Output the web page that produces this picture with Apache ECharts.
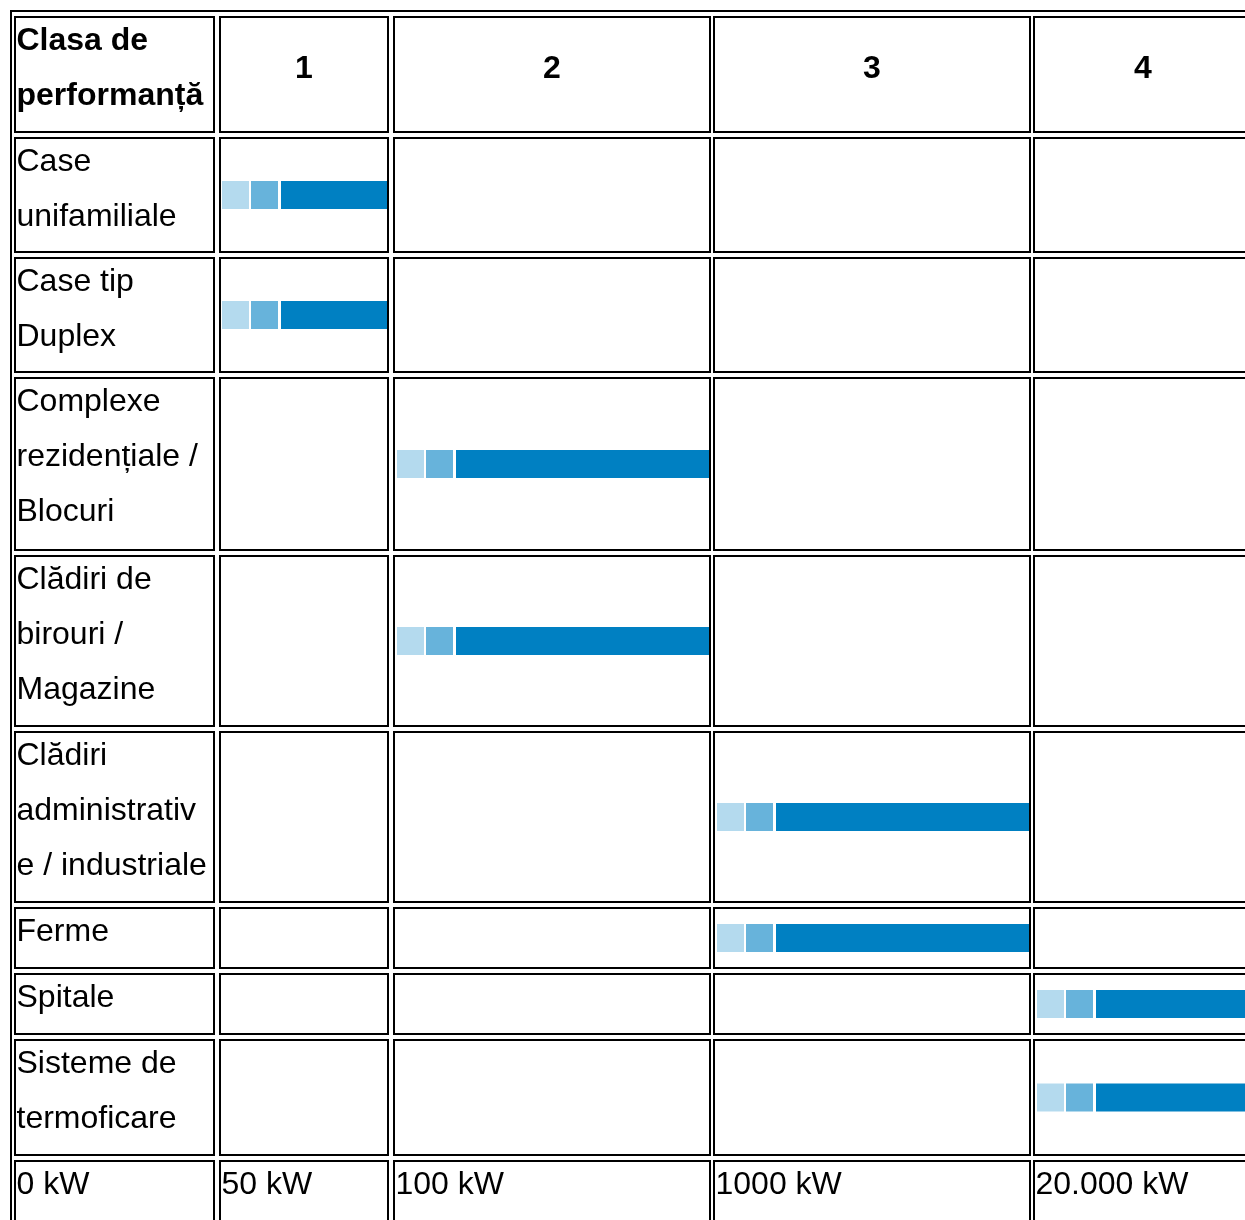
<!DOCTYPE html>
<html>
<head>
<meta charset="utf-8">
<script src="https://cdn.jsdelivr.net/npm/echarts@6/dist/echarts.min.js"></script>
<style>
html, body { margin: 0; padding: 0; background: #fff; }
#main { width: 1245px; height: 1220px; }
</style>
</head>
<body>
<div id="main"></div>
<script>
// date tabel
var headerLabel = 'Clasa de\nperformanță';
var classLabels = ['1', '2', '3', '4'];
var categories = [
    'Case\nunifamiliale',
    'Case tip\nDuplex',
    'Complexe\nrezidențiale /\nBlocuri',
    'Clădiri de\nbirouri /\nMagazine',
    'Clădiri\nadministrativ\ne / industriale',
    'Ferme',
    'Spitale',
    'Sisteme de\ntermoficare'
];
var categoryClass = [1, 1, 2, 2, 3, 3, 4, 4];
var powerLabels = ['0 kW', '50 kW', '100 kW', '1000 kW', '20.000 kW'];

// layout (centrele bordurilor, px)
var colEdges = [[15, 214], [220, 388], [394, 710], [714, 1030], [1034, 1252]];
var rowEdges = [[17, 132], [138, 252], [258, 372], [378, 550], [556, 726],
    [732, 902], [908, 968], [974, 1034], [1040, 1155], [1161, 1290]];

var FONT = '"Liberation Sans", Arial, sans-serif';
var FONT_SIZE = 32;
var LINE_H = 55;
var colors = ['#b4daee', '#67b3db', '#0080c2'];

var cells = [];
cells.push({ r: 0, c: 0, text: headerLabel, bold: true, center: false });
classLabels.forEach(function (lbl, i) {
    cells.push({ r: 0, c: i + 1, text: lbl, bold: true, center: true });
});
categories.forEach(function (name, i) {
    cells.push({ r: i + 1, c: 0, text: name, bold: false, center: false });
    for (var c = 1; c <= classLabels.length; c++) {
        cells.push({ r: i + 1, c: c, text: '', bold: false, center: false });
    }
});
powerLabels.forEach(function (lbl, i) {
    cells.push({ r: categories.length + 1, c: i, text: lbl, bold: false, center: false });
});

var bars = categories.map(function (name, i) {
    return [i + 1, categoryClass[i]];
});

function renderCell(params, api) {
    var cell = cells[params.dataIndex];
    var p0 = api.coord([colEdges[cell.c][0], rowEdges[cell.r][0]]);
    var p1 = api.coord([colEdges[cell.c][1], rowEdges[cell.r][1]]);
    var children = [{
        type: 'rect',
        shape: { x: p0[0], y: p0[1], width: p1[0] - p0[0], height: p1[1] - p0[1] },
        style: { fill: 'none', stroke: '#000', lineWidth: 2 }
    }];
    if (cell.text) {
        var tx = cell.center ? (p0[0] + p1[0]) / 2 : p0[0] + 1.5;
        var ty = cell.center ? p0[1] + 52 : p0[1] + 24 - LINE_H / 2;
        children.push({
            type: 'text',
            style: {
                text: cell.text,
                x: tx,
                y: ty,
                fill: '#000',
                font: (cell.bold ? 'bold ' : '') + FONT_SIZE + 'px ' + FONT,
                lineHeight: LINE_H,
                align: cell.center ? 'center' : 'left',
                verticalAlign: cell.center ? 'middle' : 'top'
            }
        });
    }
    return { type: 'group', children: children };
}

function renderBar(params, api) {
    var r = api.value(0), c = api.value(1);
    var L = colEdges[c][0], R = colEdges[c][1];
    var off = c === 1 ? 2 : 3;
    var cy = (rowEdges[r][0] + rowEdges[r][1]) / 2;
    var segs = [[L + off, L + off + 27], [L + off + 29, L + off + 56], [L + off + 59, R - 1]];
    return {
        type: 'group',
        children: segs.map(function (s, k) {
            var a = api.coord([s[0], cy - 14]);
            var b = api.coord([s[1], cy + 14]);
            return {
                type: 'rect',
                shape: { x: a[0], y: a[1], width: b[0] - a[0], height: b[1] - a[1] },
                style: { fill: colors[k] }
            };
        })
    };
}

var myChart = echarts.init(document.getElementById('main'));
var option = {
    backgroundColor: '#fff',
    animation: false,
    grid: { left: 0, right: 0, top: 0, bottom: 0 },
    xAxis: { type: 'value', min: 0, max: 1245, show: false },
    yAxis: { type: 'value', min: 0, max: 1220, inverse: true, show: false },
    graphic: [{
        type: 'rect',
        z: 100,
        shape: { x: 11, y: 11, width: 1400, height: 1400 },
        style: { fill: 'none', stroke: '#000', lineWidth: 2 }
    }],
    series: [{
        type: 'custom',
        name: 'cells',
        renderItem: renderCell,
        data: cells.map(function (d) { return [d.r, d.c]; }),
        z: 2
    }, {
        type: 'custom',
        name: 'bars',
        renderItem: renderBar,
        data: bars,
        z: 3
    }]
};
myChart.setOption(option);
</script>
</body>
</html>
